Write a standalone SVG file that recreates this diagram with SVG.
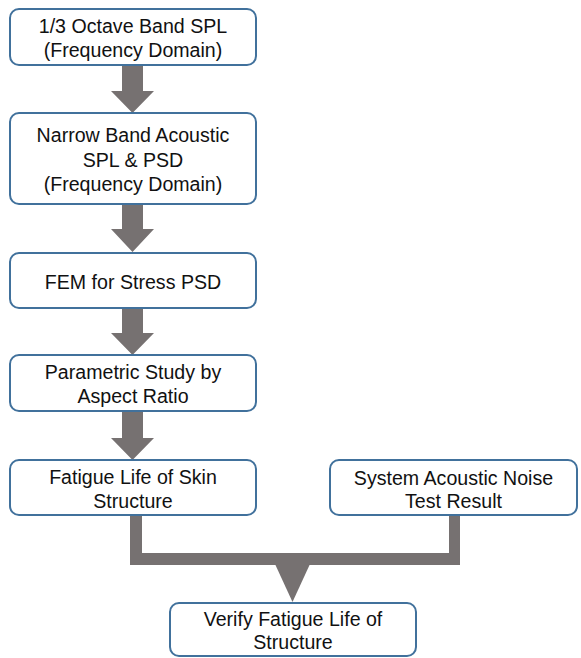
<svg xmlns="http://www.w3.org/2000/svg" width="581" height="658" viewBox="0 0 581 658">
<style>
.box{fill:#ffffff;stroke:#41719c;stroke-width:2}
.t{font-family:"Liberation Sans",Arial,sans-serif;font-size:19.6px;fill:#111111;text-anchor:middle}
.c{fill:#767171;stroke:none}
</style>
<rect width="581" height="658" fill="#ffffff"/>
<g id="connectors">
<polygon class="c" points="122,65 143,65 143,91 154,91 132.5,113 111,91 122,91"/>
<polygon class="c" points="122,204 143,204 143,229 154,229 132.5,252 111,229 122,229"/>
<polygon class="c" points="122,308 143,308 143,333 154,333 132.5,355 111,333 122,333"/>
<polygon class="c" points="122,411 143,411 143,438 154,438 132.5,460 111,438 122,438"/>
<polygon class="c" points="130,515 142,515 142,553 449,553 449,515 460,515 460,565 130,565"/>
<polygon class="c" points="275,564 310,564 292.5,602"/>
</g>
<g id="n1"><rect class="box" x="10" y="9" width="246" height="56" rx="9"/>
<text class="t" x="133" y="33">1/3 Octave Band SPL</text>
<text class="t" x="133" y="57">(Frequency Domain)</text></g>
<g id="n2"><rect class="box" x="10" y="113" width="246" height="91" rx="9"/>
<text class="t" x="133" y="142">Narrow Band Acoustic</text>
<text class="t" x="133" y="166.5">SPL &amp; PSD</text>
<text class="t" x="133" y="191">(Frequency Domain)</text></g>
<g id="n3"><rect class="box" x="10" y="253" width="246" height="55" rx="9"/>
<text class="t" x="133" y="289">FEM for Stress PSD</text></g>
<g id="n4"><rect class="box" x="10" y="355" width="246" height="56" rx="9"/>
<text class="t" x="133" y="379">Parametric Study by</text>
<text class="t" x="133" y="403">Aspect Ratio</text></g>
<g id="n5"><rect class="box" x="10" y="460" width="246" height="55" rx="9"/>
<text class="t" x="133" y="484">Fatigue Life of Skin</text>
<text class="t" x="133" y="508">Structure</text></g>
<g id="n6"><rect class="box" x="330" y="460" width="247" height="55" rx="9"/>
<text class="t" x="453.5" y="484.5">System Acoustic Noise</text>
<text class="t" x="453.5" y="508">Test Result</text></g>
<g id="n7"><rect class="box" x="170" y="603" width="246" height="53" rx="9"/>
<text class="t" x="293" y="625.5">Verify Fatigue Life of</text>
<text class="t" x="293" y="648.5">Structure</text></g>
</svg>
